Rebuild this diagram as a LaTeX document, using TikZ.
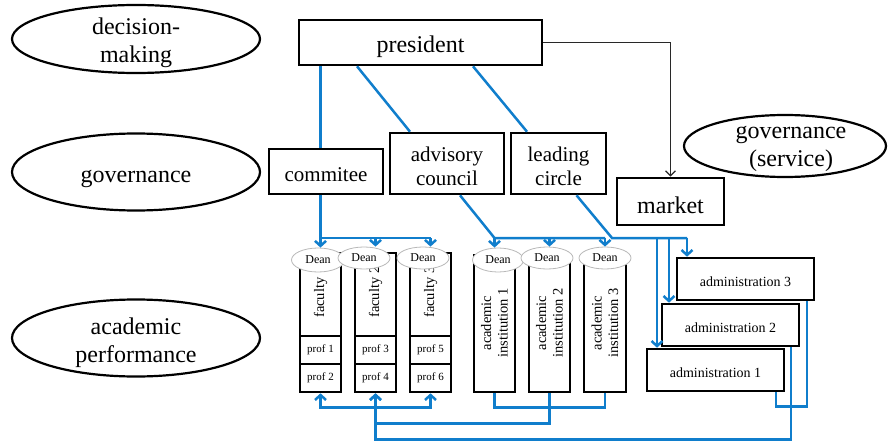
\documentclass[tikz,border=0pt]{standalone}
\usepackage{fontspec}
\setmainfont{Liberation Serif}
\usetikzlibrary{shapes.geometric,arrows.meta,calc}
\definecolor{lineblue}{RGB}{16,126,204}
\definecolor{darkline}{RGB}{40,40,40}
\begin{document}
\begin{tikzpicture}[x=1pt,y=-1pt,
 box/.style={draw,line width=2.6pt,rectangle,inner sep=0pt,align=center},
 bigtxt/.style={inner sep=0pt,align=center,font=\fontsize{24}{28}\selectfont},
 midtxt/.style={inner sep=0pt,align=center,font=\fontsize{21}{24.5}\selectfont},
 lab/.style={draw,line width=2.2pt,ellipse,inner sep=0pt},
 dean/.style={draw=gray!55,fill=white,ellipse,inner sep=0pt,line width=0.8pt,minimum width=52pt,minimum height=22pt,font=\fontsize{12}{14}\selectfont},
 col/.style={box,minimum width=41pt},
 prof/.style={box,minimum width=41pt,minimum height=28pt,font=\fontsize{11}{13}\selectfont},
 adm/.style={box,minimum width=137pt,minimum height=42pt},
 admtxt/.style={inner sep=0pt,font=\fontsize{14}{16}\selectfont},
 vtxt/.style={rotate=90,inner sep=0pt,align=center,font=\fontsize{14.5}{16.5}\selectfont},
 bl/.style={draw=lineblue,line width=2.5pt},
 tip/.style={-{Straight Barb[length=5pt,width=11pt]}},
 bitip/.style={{Straight Barb[length=5pt,width=11pt]}-{Straight Barb[length=5pt,width=11pt]}},
]
\useasboundingbox (0,0) rectangle (888,441);

% level labels
\node[lab,minimum width=248pt,minimum height=68pt] (ldm) at (136,39) {};
\node[bigtxt] (tldm) at ([yshift=-4pt]ldm.center) {decision-\\making};
\node[lab,minimum width=248pt,minimum height=77pt] (lgov) at (136,172) {};
\node[bigtxt] (tlgov) at ([yshift=-7pt]lgov.center) {governance};
\node[lab,minimum width=248pt,minimum height=77pt] (lacad) at (136,338) {};
\node[bigtxt] (tlacad) at ([yshift=-5pt]lacad.center) {academic\\performance};
\node[lab,minimum width=202pt,minimum height=62pt] (lserv) at (785,146) {};
\node[bigtxt] (tlserv) at ([xshift=6pt,yshift=-3pt]lserv.center) {governance\\(service)};

% top boxes
\node[box,minimum width=243pt,minimum height=45pt] (president) at (420.5,42.5) {};
\node[bigtxt] (tpresident) at ([yshift=-4pt]president.center) {president};
\node[box,minimum width=114pt,minimum height=45pt] (commitee) at (326,171.5) {};
\node[midtxt] (tcommitee) at ([yshift=-3pt]commitee.center) {commitee};
\node[box,minimum width=114pt,minimum height=61pt] (advisory) at (447,163.5) {};
\node[midtxt] (tadvisory) at ([yshift=-3pt]advisory.center) {advisory\\council};
\node[box,minimum width=95pt,minimum height=61pt] (leading) at (558.5,163.5) {};
\node[midtxt] (tleading) at ([yshift=-3pt]leading.center) {leading\\circle};
\node[box,minimum width=107pt,minimum height=47pt] (market) at (670.5,201.5) {};
\node[bigtxt] (tmarket) at ([yshift=-4pt]market.center) {market};

% faculties
\node[col,minimum height=83pt] (fac1) at (320.5,294.5) {};
\node[prof] (prof1) at (320.5,350) {prof 1};
\node[prof] (prof2) at (320.5,378) {prof 2};
\node[col,minimum height=83pt] (fac2) at (375.5,294.5) {};
\node[prof] (prof3) at (375.5,350) {prof 3};
\node[prof] (prof4) at (375.5,378) {prof 4};
\node[col,minimum height=83pt] (fac3) at (430.5,294.5) {};
\node[prof] (prof5) at (430.5,350) {prof 5};
\node[prof] (prof6) at (430.5,378) {prof 6};
\node[vtxt,anchor=west] (tf1) at (320.5,318) {faculty};
\node[vtxt,anchor=west] (tf2) at (375.5,318) {faculty 2};
\node[vtxt,anchor=west] (tf3) at (430.5,318) {faculty 3};

% academic institutions
\node[col,minimum height=137pt] (ai1) at (494.5,323.5) {};
\node[col,minimum height=137pt] (ai2) at (549.5,323.5) {};
\node[col,minimum width=42pt,minimum height=137pt] (ai3) at (605,323.5) {};
\node[vtxt] (tai1) at (494.5,323) {academic\\institution 1};
\node[vtxt] (tai2) at (549.5,323) {academic\\institution 2};
\node[vtxt] (tai3) at (605,323) {academic\\institution 3};

% deans
\node[dean,minimum width=53pt,minimum height=24pt] (dean1) at (318,260) {Dean};
\node[dean] (dean2) at (364,258) {Dean};
\node[dean] (dean3) at (423,258) {Dean};
\node[dean,minimum width=51pt,minimum height=24pt] (dean4) at (498,260) {Dean};
\node[dean] (dean5) at (547,258) {Dean};
\node[dean] (dean6) at (605,258) {Dean};

% administrations
\node[adm] (adm3) at (745.5,279) {};
\node[admtxt] (tadm3) at ([yshift=-3pt]adm3.center) {administration 3};
\node[adm] (adm2) at (730.5,325) {};
\node[admtxt] (tadm2) at ([yshift=-3pt]adm2.center) {administration 2};
\node[adm] (adm1) at (715.5,370) {};
\node[admtxt] (tadm1) at ([yshift=-3pt]adm1.center) {administration 1};

% junction coordinates
\coordinate (j1) at (320.5,238);
\coordinate (j2) at (494.5,238);
\coordinate (j3) at (612,238);
\coordinate (xa1) at (657,0);
\coordinate (xa2) at (669,0);
\coordinate (xa3) at (687,0);

% president to governance level
\draw[bl] (president.south -| fac1) -- (commitee.north -| fac1);
\draw[bl] ([xshift=-63.5pt]president.south) -- ([xshift=-37pt]advisory.north);
\draw[bl] ([xshift=52.5pt]president.south) -- ([xshift=-31.5pt]leading.north);
\draw[darkline,line width=1.3pt,-{Straight Barb[length=5pt,width=10pt]}] (president.east) -| (market.north);

% commitee to faculties
\draw[bl] (commitee.south -| fac1) -- (j1) -- (j1 -| fac3);
\draw[bl,tip] (j1) -- (dean1.north -| fac1);
\draw[bl,tip] (j1 -| fac2) -- (dean2.north -| fac2);
\draw[bl,tip] (j1 -| fac3) -- (dean3.north -| fac3);

% advisory council to academic institutions
\draw[bl] ([xshift=13pt]advisory.south) -- (j2) -- (j2 -| ai3);
\draw[bl,tip] (j2) -- (dean4.north -| ai1);
\draw[bl,tip] (j2 -| ai2) -- (dean5.north -| ai2);
\draw[bl,tip] (j2 -| ai3) -- (dean6.north -| ai3);

% leading circle to administrations
\draw[bl] ([xshift=18pt]leading.south) -- (j3) -- (j3 -| xa3);
\draw[bl,tip] (j3 -| xa1) -- (adm1.north -| xa1);
\draw[bl,tip] (j3 -| xa2) -- (adm2.north -| xa2);
\draw[bl,tip] (j3 -| xa3) -- (adm3.north -| xa3);

% bottom feedback lines
\draw[bl,bitip] (prof2.south) -- ++(0,14) -| (prof6.south);
\draw[bl] (ai1.south) -- ++(0,14) -| (ai3.south);
\draw[bl,tip] (ai2.south) -- ++(0,30) -| (prof4.south);
\draw[bl,tip] ([xshift=60.5pt]adm2.south) -- ++(0,92) -| (prof4.south);
\draw[bl] ([xshift=60.5pt]adm1.south) -- ++(0,14) -| ([xshift=61.5pt]adm3.south);
\end{tikzpicture}
\end{document}
